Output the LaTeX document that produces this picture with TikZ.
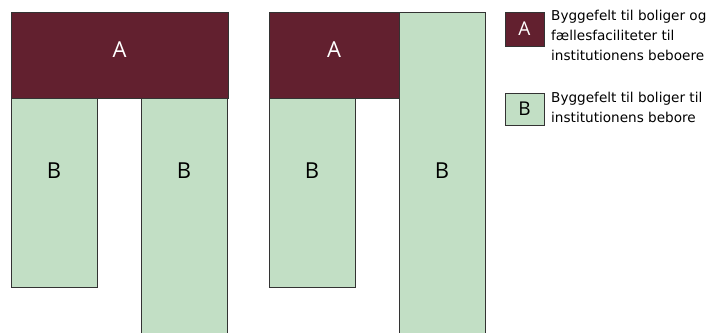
\documentclass[tikz,border=0pt]{standalone}
\usepackage{fontspec}
\setmainfont{Open Sans}
\newfontfamily\legfont{DejaVu Sans}
\definecolor{maroon}{HTML}{62202F}
\definecolor{sage}{HTML}{C2DFC5}
\definecolor{edge}{HTML}{333333}
\begin{document}
\begin{tikzpicture}[x=1pt,y=-1pt,
  afill/.style={fill=maroon,draw=edge,line width=0.8pt},
  bfill/.style={fill=sage,draw=edge,line width=0.8pt},
  biglabel/.style={font=\fontsize{22}{24}\selectfont,inner sep=0pt},
  leglabel/.style={font=\fontsize{19}{22}\selectfont,inner sep=0pt},
  legtext/.style={font=\legfont\fontsize{13.6}{20}\selectfont,inner sep=0pt,align=left,anchor=north west}]
\useasboundingbox (0,0) rectangle (720,332);
% left group
\draw[bfill] (11,98) rectangle (97,287);
\draw[bfill] (141,98) rectangle (227,340);
\draw[afill] (11,12) rectangle (228,98);
\node[biglabel,text=white] (la) at (119.5,50) {A};
\node[biglabel] (lb1) at (54,171) {B};
\node[biglabel] (lb2) at (184,171) {B};
% right group
\draw[bfill] (269,98) rectangle (355,287);
\draw[bfill] (399,12) rectangle (485,340);
\draw[afill] (269,12) rectangle (399,98);
\node[biglabel,text=white] (ra) at (334,50) {A};
\node[biglabel] (rb1) at (312,171) {B};
\node[biglabel] (rb2) at (442,171) {B};
% legend
\draw[afill] (505,12) rectangle (544,46);
\node[leglabel,text=white] (lega) at (524.5,29) {A};
\draw[bfill] (505,93) rectangle (544,125);
\node[leglabel] (legb) at (524.5,109) {B};
\node[legtext] (ta) at (551,10) {Byggefelt til boliger og\\fællesfaciliteter til\\institutionens beboere};
\node[legtext] (tb) at (551,92) {Byggefelt til boliger til\\institutionens bebore};
\end{tikzpicture}
\end{document}
